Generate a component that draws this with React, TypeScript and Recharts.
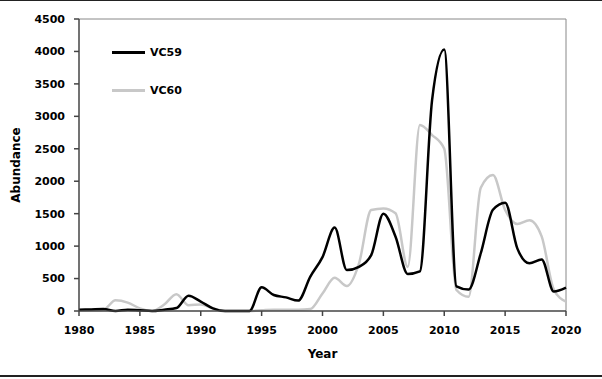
import React from "react";
import { Line, LineChart, ReferenceLine, XAxis, YAxis } from "recharts";

const years = [
  1980, 1981, 1982, 1983, 1984, 1985, 1986, 1987, 1988, 1989, 1990, 1991, 1992, 1993,
  1994, 1995, 1996, 1997, 1998, 1999, 2000, 2001, 2002, 2003, 2004, 2005, 2006, 2007,
  2008, 2009, 2010, 2011, 2012, 2013, 2014, 2015, 2016, 2017, 2018, 2019, 2020,
];

const vc59 = [
  20, 25, 30, 0, 20, 10, 0, 20, 45, 235, 145, 40, 0, 0, 0, 365, 246, 210, 160, 530, 830,
  1285, 630, 680, 860, 1500, 1145, 570, 610, 3250, 4030, 380, 330, 890, 1560, 1670, 965,
  735, 795, 300, 360,
];

const vc60 = [
  10, 15, 20, 165, 130, 40, 0, 100, 260, 90, 100, 40, 0, 0, 0, 10, 20, 20, 20, 30, 270,
  513, 385, 735, 1556, 1580, 1505, 680, 2866, 2712, 2500, 324, 220, 1900, 2096, 1556, 1340,
  1400, 1150, 330, 145,
];

const xTicks = [1980, 1985, 1990, 1995, 2000, 2005, 2010, 2015, 2020];
const yTicks = [0, 500, 1000, 1500, 2000, 2500, 3000, 3500, 4000, 4500];

const series = [
  { key: "VC59", color: "#000000" },
  { key: "VC60", color: "#c8c8c8" },
];

const data = years.map((year, i) => ({ year, VC59: vc59[i], VC60: vc60[i] }));

const font = "'DejaVu Sans', sans-serif";
const tickStyle = { fontSize: 11, fontWeight: 700, fill: "#000", fontFamily: font };

// legend sits inside the plot, so it's drawn as a plain overlay
function ChartLegend() {
  return (
    <div style={{ position: "absolute", left: 112, top: 45, fontFamily: font, fontSize: 11, fontWeight: 700 }}>
      {series.map((s, i) => (
        <div
          key={s.key}
          style={{ display: "flex", alignItems: "center", height: 14, marginTop: i === 0 ? 0 : 24 }}
        >
          <span style={{ display: "inline-block", width: 33, height: 3, background: s.color }} />
          <span style={{ marginLeft: 5 }}>{s.key}</span>
        </div>
      ))}
    </div>
  );
}

export default function App() {
  return (
    <div
      style={{
        position: "absolute",
        top: 0,
        left: 0,
        width: 602,
        height: 379,
        background: "#fff",
      }}
    >
      <div style={{ position: "absolute", top: 0, left: 0, width: 602, height: 1, background: "#222" }} />
      <div style={{ position: "absolute", top: 375, left: 0, width: 602, height: 2, background: "#222" }} />
      <LineChart width={602} height={379} data={data} margin={{ top: 19, right: 36, left: 0, bottom: 18 }}>
        <XAxis
          dataKey="year"
          type="number"
          domain={[1980, 2020]}
          ticks={xTicks}
          tick={tickStyle}
          tickSize={5}
          tickMargin={10}
          height={50}
          axisLine={{ stroke: "#444", strokeWidth: 1.5 }}
          tickLine={{ stroke: "#444", strokeWidth: 1.5 }}
          label={{
            value: "Year",
            position: "insideBottom",
            offset: 3,
            style: { fontSize: 12, fontWeight: 700, fill: "#000", fontFamily: font },
          }}
        />
        <YAxis
          domain={[0, 4500]}
          ticks={yTicks}
          tick={tickStyle}
          tickSize={5}
          tickMargin={9}
          width={79}
          axisLine={{ stroke: "#444", strokeWidth: 1.5 }}
          tickLine={{ stroke: "#444", strokeWidth: 1.5 }}
          label={{
            value: "Abundance",
            angle: -90,
            position: "insideLeft",
            offset: 16,
            style: { fontSize: 12, fontWeight: 700, fill: "#000", fontFamily: font, textAnchor: "middle" },
          }}
        />
        <ReferenceLine y={4500} stroke="#888" strokeWidth={1} />
        <ReferenceLine x={2020} stroke="#888" strokeWidth={1} />
        <Line
          dataKey="VC60"
          type="monotone"
          stroke="#c8c8c8"
          strokeWidth={2.5}
          dot={false}
          isAnimationActive={false}
        />
        <Line
          dataKey="VC59"
          type="monotone"
          stroke="#000000"
          strokeWidth={2.5}
          dot={false}
          isAnimationActive={false}
        />
      </LineChart>
      <ChartLegend />
    </div>
  );
}
